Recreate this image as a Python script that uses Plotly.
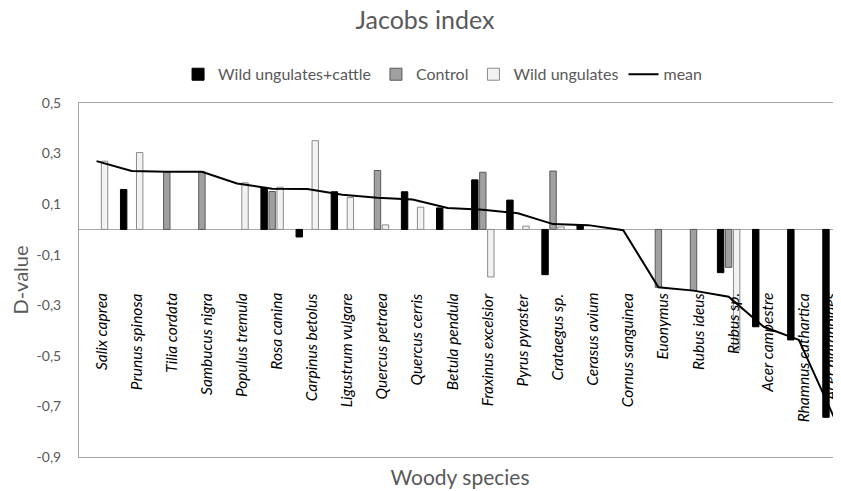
import plotly.graph_objects as go

categories = ["Salix caprea", "Prunus spinosa", "Tilia cordata", "Sambucus nigra",
              "Populus tremula", "Rosa canina", "Carpinus betolus", "Ligustrum vulgare",
              "Quercus petraea", "Quercus cerris", "Betula pendula", "Fraxinus excelsior",
              "Pyrus pyraster", "Crataegus sp.", "Cerasus avium", "Cornus sanguinea",
              "Euonymus", "Rubus ideus", "Rubus sp.", "Acer campestre",
              "Rhamnus cathartica", "Acer platanoides"]

wild_cattle = [None, 0.158, None, None, None, 0.166, -0.030, 0.149, None, 0.149, 0.085,
               0.196, 0.116, -0.179, 0.017, None, None, None, -0.171, -0.385, -0.437, -0.743]
control = [None, None, 0.228, 0.228, None, 0.150, None, None, 0.233, None, None,
           0.226, None, 0.231, None, None, -0.229, -0.242, -0.150, None, None, None]
wild_only = [0.270, 0.304, None, None, 0.184, 0.167, 0.351, 0.126, 0.018, 0.088, None,
             -0.188, 0.013, 0.010, None, None, None, None, -0.477, None, None, None]
mean_vals = [0.270, 0.231, 0.228, 0.228, 0.182, 0.161, 0.160, 0.137, 0.125, 0.118, 0.085,
             0.078, 0.064, 0.021, 0.017, -0.003, -0.229, -0.242, -0.266, -0.385, -0.437, -0.743]

y_tick_vals = [0.5, 0.3, 0.1, -0.1, -0.3, -0.5, -0.7, -0.9]
y_tick_text = ["0,5", "0,3", "0,1", "-0,1", "-0,3", "-0,5", "-0,7", "-0,9"]

FONT = "Lato"
TXT = "#595959"
AXIS = "#A6A6A6"
X_MAX = 21.2

fig = go.Figure()
fig.add_trace(go.Bar(x=categories, y=wild_cattle, name="Wild ungulates+cattle",
                     marker=dict(color="#000000", line=dict(color="#000000", width=1))))
fig.add_trace(go.Bar(x=categories, y=control, name="Control",
                     marker=dict(color="#A0A0A0", line=dict(color="#595959", width=1))))
fig.add_trace(go.Bar(x=categories, y=wild_only, name="Wild ungulates",
                     marker=dict(color="#F2F2F2", line=dict(color="#8C8C8C", width=1))))
fig.add_trace(go.Scatter(x=categories, y=mean_vals, name="mean", mode="lines",
                         line=dict(color="#000000", width=2)))

# category labels sit inside the plot, slightly right of each category centre;
# the last one is kept inside the plot's right edge
n = len(categories)
for i, c in enumerate(categories):
    last = i == n - 1
    fig.add_annotation(x=X_MAX if last else i + 0.11, y=-0.244, xref="x", yref="y",
                       text=c, textangle=-90, showarrow=False,
                       xanchor="right" if last else "center", yanchor="top",
                       font=dict(family=FONT, size=15.5, color="#000000", style="italic"))

fig.update_layout(
    width=841, height=483,
    margin=dict(l=71, r=8, t=95, b=34),
    paper_bgcolor="white", plot_bgcolor="white",
    separators=",.",
    font=dict(family=FONT, color=TXT),
    title=dict(text="Jacobs index", x=417 / 841, xref="container", xanchor="center",
               y=1 - 3 / 483, yref="container", yanchor="top", pad=dict(t=0),
               font=dict(family=FONT, size=25, color=TXT)),
    barmode="group", bargap=0.316, bargroupgap=0.2,
    showlegend=True,
    legend=dict(orientation="h", x=0.130, xanchor="left", y=1.081, yanchor="middle",
                font=dict(family=FONT, size=16, color=TXT), bgcolor="rgba(0,0,0,0)",
                traceorder="normal"),
    xaxis=dict(range=[-0.5, X_MAX], showticklabels=False, ticks="",
               showline=True, linecolor=AXIS, linewidth=1, mirror=True,
               showgrid=False, zeroline=False, automargin=False,
               title=dict(text="Woody species", standoff=13,
                          font=dict(family=FONT, size=21, color=TXT))),
    yaxis=dict(range=[-0.9, 0.5], tickmode="array", tickvals=y_tick_vals,
               ticktext=y_tick_text, ticks="", ticklabelstandoff=14,
               tickfont=dict(family=FONT, size=14, color=TXT),
               showline=True, linecolor=AXIS, linewidth=1, mirror=False,
               showgrid=False, zeroline=True, zerolinecolor=AXIS, zerolinewidth=1,
               automargin=False,
               title=dict(text="D-value", standoff=3,
                          font=dict(family=FONT, size=20, color=TXT))),
)

fig.write_html("out.html")
